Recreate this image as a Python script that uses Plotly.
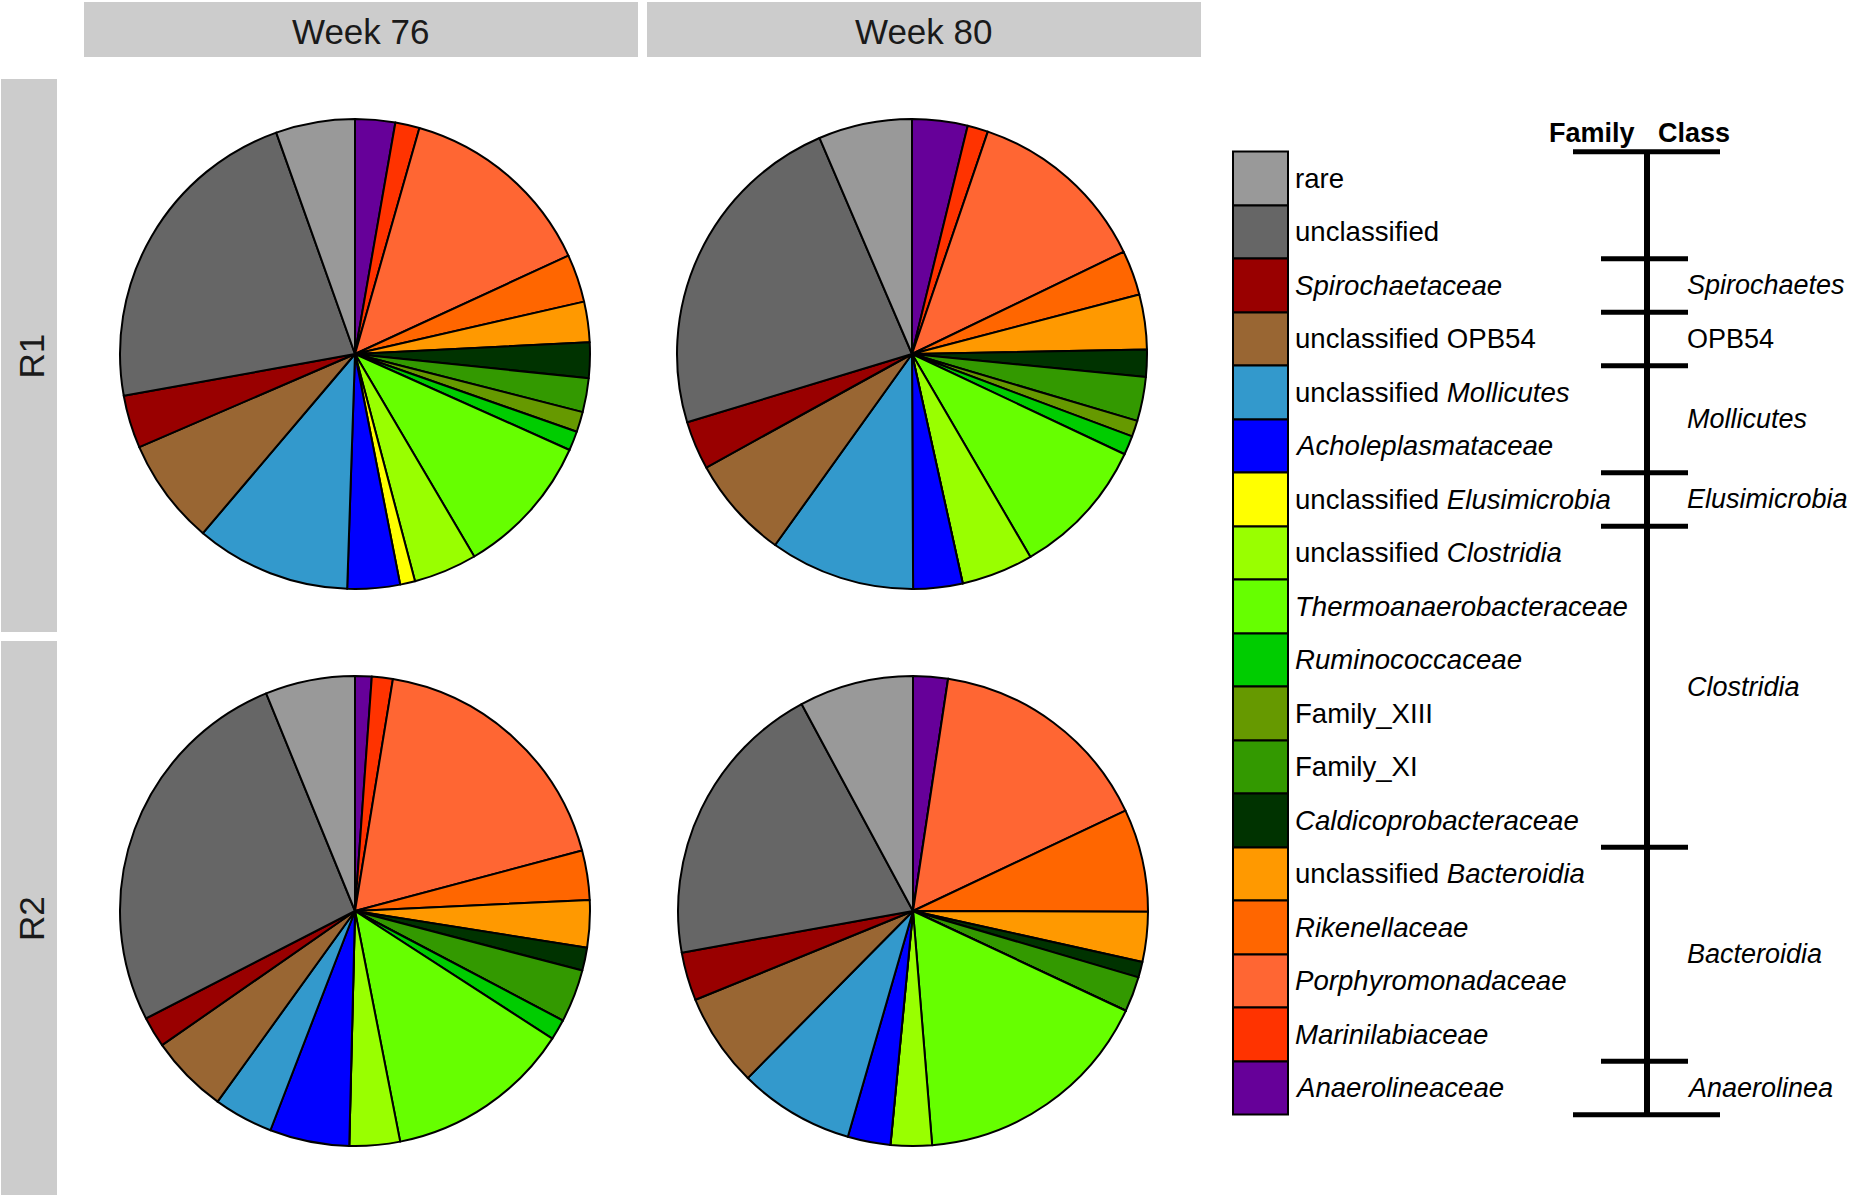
import plotly.graph_objects as go

W, H = 1850, 1200

# ---------------- data ----------------
families = ["rare", "unclassified", "<i>Spirochaetaceae</i>", "unclassified OPB54",
            "unclassified <i>Mollicutes</i>", "<i>Acholeplasmataceae</i>",
            "unclassified <i>Elusimicrobia</i>", "unclassified <i>Clostridia</i>",
            "<i>Thermoanaerobacteraceae</i>", "<i>Ruminococcaceae</i>", "Family_XIII",
            "Family_XI", "<i>Caldicoprobacteraceae</i>", "unclassified <i>Bacteroidia</i>",
            "<i>Rikenellaceae</i>", "<i>Porphyromonadaceae</i>", "<i>Marinilabiaceae</i>",
            "<i>Anaerolineaceae</i>"]
colors = ["#999999", "#666666", "#990000", "#996633", "#3399CC", "#0000FF", "#FFFF00",
          "#99FF00", "#66FF00", "#00CC00", "#669900", "#339900", "#003300", "#FF9900",
          "#FF6600", "#FF6633", "#FF3300", "#660099"]

weeks = ["Week 76", "Week 80"]
reactors = ["R1", "R2"]

r1_week76 = [5.44, 22.4, 3.64, 7.31, 10.67, 3.61, 1.03, 4.36, 9.83, 1.33, 1.39, 2.33, 2.44, 2.78, 3.3, 13.7, 1.67, 2.75]
r1_week80 = [6.44, 23.25, 3.33, 7.08, 9.97, 3.39, 0, 4.94, 9.58, 1.31, 1.11, 3.03, 1.86, 3.78, 3.08, 12.61, 1.42, 3.81]
r2_week76 = [6.17, 26.39, 2.11, 5.39, 4.08, 5.47, 0, 3.47, 12.78, 1.42, 0, 3.64, 1.58, 3.25, 3.39, 18.28, 1.44, 1.14]
r2_week80 = [7.86, 19.97, 3.33, 6.42, 7.94, 2.94, 0, 2.83, 16.72, 0, 0, 2.42, 1.08, 3.42, 7.08, 15.58, 0, 2.39]

classes = ["<i>Spirochaetes</i>", "OPB54", "<i>Mollicutes</i>", "<i>Elusimicrobia</i>",
           "<i>Clostridia</i>", "<i>Bacteroidia</i>", "<i>Anaerolinea</i>"]
class_start = [2, 3, 4, 6, 7, 13, 17]   # legend index where each class begins
class_end = [3, 4, 6, 7, 13, 17, 18]

panels = {("R1", "Week 76"): r1_week76, ("R1", "Week 80"): r1_week80,
          ("R2", "Week 76"): r2_week76, ("R2", "Week 80"): r2_week80}

# ---------------- layout helpers (pixels) ----------------
FONT = "Liberation Sans, Arial, sans-serif"
col_x = {"Week 76": (84, 638), "Week 80": (647, 1201)}
row_y = {"R1": (79, 632), "R2": (641, 1195)}
pie_c = {("R1", "Week 76"): (355, 354), ("R1", "Week 80"): (912, 354),
         ("R2", "Week 76"): (355, 911), ("R2", "Week 80"): (913, 911)}
RAD = 235

def px(x):
    return x / W

def py(y):
    return 1 - y / H

fig = go.Figure()

for key, vals in panels.items():
    cx, cy = pie_c[key]
    fig.add_trace(go.Pie(
        labels=families[::-1], values=vals[::-1],
        marker=dict(colors=colors[::-1], line=dict(color="black", width=2)),
        sort=False, direction="clockwise", rotation=0,
        textinfo="none", showlegend=False, hoverinfo="label+percent",
        domain=dict(x=[px(cx - RAD), px(cx + RAD)], y=[py(cy + RAD), py(cy - RAD)]),
    ))

shapes = []
annotations = []
for wk, (x0, x1) in col_x.items():
    shapes.append(dict(type="rect", xref="paper", yref="paper", x0=px(x0), x1=px(x1),
                       y0=py(57), y1=py(2), fillcolor="#CCCCCC", line=dict(width=0), layer="below"))
    annotations.append(dict(text=wk, xref="paper", yref="paper", x=px((x0 + x1) / 2), y=py(31),
                            xanchor="center", yanchor="middle",
                            showarrow=False, font=dict(size=35, color="#1A1A1A", family=FONT)))
for rr, (y0, y1) in row_y.items():
    shapes.append(dict(type="rect", xref="paper", yref="paper", x0=px(1), x1=px(57),
                       y0=py(y1), y1=py(y0), fillcolor="#CCCCCC", line=dict(width=0), layer="below"))
    annotations.append(dict(text=rr, xref="paper", yref="paper", x=px(31), y=py((y0 + y1) / 2),
                            xanchor="center", yanchor="middle",
                            showarrow=False, textangle=-90,
                            font=dict(size=35, color="#1A1A1A", family=FONT)))

# ---------------- legend (cartesian axes, y in legend-item units) ----------------
n = len(families)
ITEM = 53.5
TOP = 151.7
y_lo, y_hi = -1.5, n + 0.5
dom_top = TOP + y_lo * ITEM
dom_bot = TOP + y_hi * ITEM

fig.add_trace(go.Bar(
    x=[1260.25] * n, y=[1] * n, base=list(range(n)), width=54.5,
    marker=dict(color=colors, line=dict(color="black", width=2)),
    showlegend=False, hoverinfo="skip", xaxis="x", yaxis="y",
))

for i, fam in enumerate(families):
    annotations.append(dict(text=fam, xref="x", yref="y", x=1293, y=i + 0.5,
                            xanchor="left", yanchor="middle", showarrow=False,
                            font=dict(size=27.6, color="black", family=FONT)))

# bracket
BX = 1647
shapes.append(dict(type="line", xref="x", yref="y", x0=BX, x1=BX, y0=0, y1=n,
                   line=dict(color="black", width=6)))
for yb in (0, n):
    shapes.append(dict(type="line", xref="x", yref="y", x0=1573, x1=1720, y0=yb, y1=yb,
                       line=dict(color="black", width=5)))
for yb in class_start:
    shapes.append(dict(type="line", xref="x", yref="y", x0=1601, x1=1688, y0=yb, y1=yb,
                       line=dict(color="black", width=5)))
for c, s, e in zip(classes, class_start, class_end):
    annotations.append(dict(text=c, xref="x", yref="y", x=1685, y=(s + e) / 2,
                            xanchor="left", yanchor="middle", showarrow=False,
                            font=dict(size=27, color="black", family=FONT)))
annotations.append(dict(text="<b>Family</b>", xref="x", yref="y", x=1592, y=-0.35,
                        xanchor="center", yanchor="middle",
                        showarrow=False, font=dict(size=27, color="black", family=FONT)))
annotations.append(dict(text="<b>Class</b>", xref="x", yref="y", x=1694, y=-0.35,
                        xanchor="center", yanchor="middle",
                        showarrow=False, font=dict(size=27, color="black", family=FONT)))

fig.update_layout(
    width=W, height=H, autosize=False,
    margin=dict(l=0, r=0, t=0, b=0),
    paper_bgcolor="white", plot_bgcolor="rgba(0,0,0,0)",
    shapes=shapes, annotations=annotations,
    xaxis=dict(domain=[1200 / W, 1], range=[1200, W], visible=False, fixedrange=True),
    yaxis=dict(domain=[py(dom_bot), py(dom_top)], range=[y_hi, y_lo], visible=False, fixedrange=True),
    bargap=0,
)

fig.write_html("out.html",
               config={"displayModeBar": False},
               post_script="document.body.style.margin='0';document.body.style.padding='0';")
